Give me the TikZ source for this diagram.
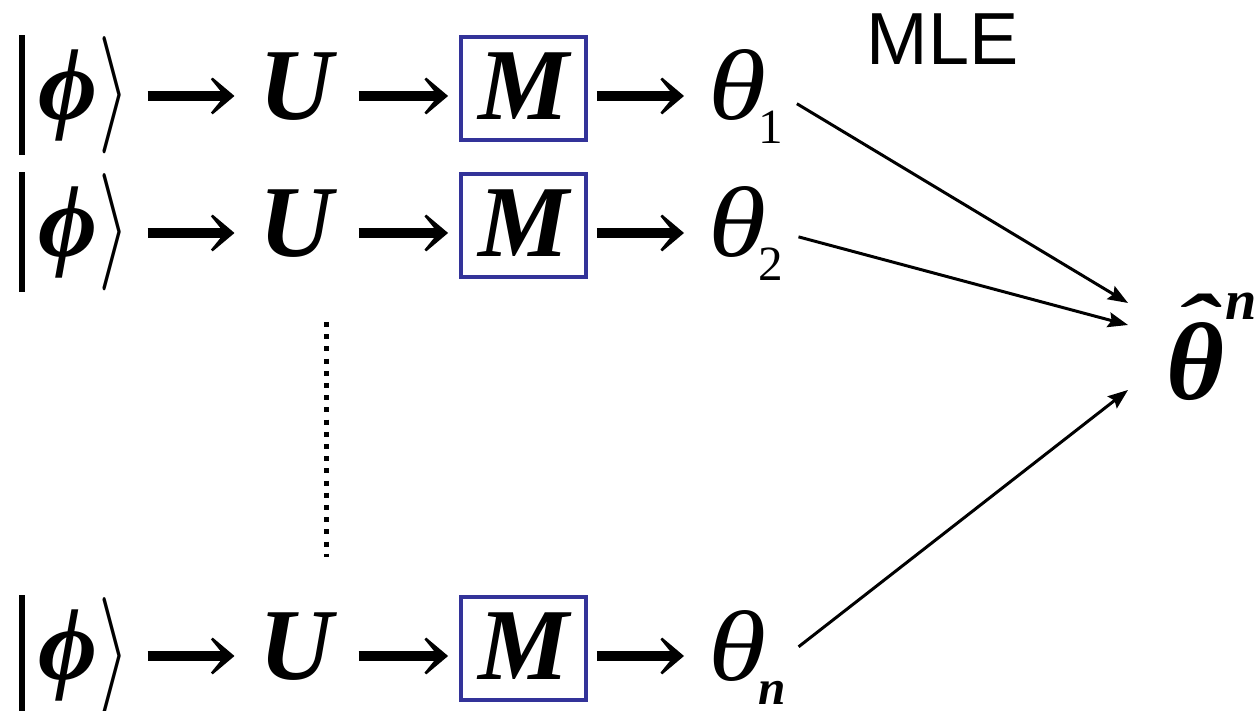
\RequirePackage{fix-cm}
\documentclass[tikz,border=0pt]{standalone}
\usepackage{amsmath,amssymb}
\usepackage{fontspec}
\usetikzlibrary{arrows.meta,positioning}
\newfontfamily\tms{Liberation Serif}
\newfontfamily\hlv{Liberation Sans}
\definecolor{measblue}{HTML}{333399}
% ket |phi>
\newcommand{\ketphi}{\rule[-0.35cm]{0.065cm}{1.2cm}\hspace{0.13cm}ϕ\hspace{0.01cm}\raisebox{-0.05cm}{\scalebox{0.8}[1.15]{$\rangle$}}}
\newcommand{\sub}[1]{\hspace{-0.08cm}\raisebox{-0.24cm}{\fontsize{14}{16}\selectfont #1}}
% hat over theta, hat top 1.06cm above the base line
\newcommand{\hatto}{\rlap{\hspace{0.08cm}\raisebox{\dimexpr1.06cm-\fontcharht\font"02C6*4/5\relax}{\scalebox{1.2}[0.8]{\char"02C6}}}}

\begin{document}
\begin{tikzpicture}[
  sym/.style={font=\fontsize{29}{34}\selectfont\tms\bfseries\itshape, inner sep=0pt, text height=0.63cm, text depth=0.15cm, anchor=base},
  ket/.style={sym, anchor=base west},
  meas/.style={sym, draw=measblue, line width=1.1pt, minimum width=1.25cm, minimum height=1.03cm, text depth=0cm},
  est/.style={sym, font=\fontsize{34}{38}\selectfont\tms\itshape, anchor=base west},
  arr/.style={line width=2.6pt, -{Stealth[length=0.32cm, width=0.54cm, inset=0.22cm]}, shorten <=0.25cm, shorten >=0.24cm},
  edge/.style={line width=0.85pt, -{Stealth[length=0.2cm, width=0.15cm, inset=0.03cm]}, shorten <=0.15cm}
]
\useasboundingbox (0,0) rectangle (12.57,7.11);
\node[font=\fontsize{21}{25}\selectfont\hlv, anchor=base] (mle) at (9.425,6.46) {MLE};

\node[ket] (k1) at (0.18,5.91) {\ketphi};
\node[sym] (u1) at (2.96,5.91) {U};
\node[meas] (m1) at (5.235,5.91) {M};
\node[est] (t1) at (7.08,5.91) {\resizebox{0.58cm}{0.70cm}{θ}\sub{\upshape 1}};
\draw[arr, shorten <=0.17cm] (k1) -- (u1);
\draw[arr, shorten >=0.11cm] (u1) -- (u1 -| m1.west);
\draw[arr, shorten <=0.09cm] (m1.east |- u1) -- (t1);

\node[ket] (k2) at (0.18,4.54) {\ketphi};
\node[sym] (u2) at (2.96,4.54) {U};
\node[meas] (m2) at (5.235,4.54) {M};
\node[est] (t2) at (7.08,4.54) {\resizebox{0.58cm}{0.70cm}{θ}\sub{\upshape 2}};
\draw[arr, shorten <=0.17cm] (k2) -- (u2);
\draw[arr, shorten >=0.11cm] (u2) -- (u2 -| m2.west);
\draw[arr, shorten <=0.09cm] (m2.east |- u2) -- (t2);

\draw[line width=1.42pt, dash pattern=on 1.42pt off 2.05pt] (3.26,3.89) -- (3.26,1.54);

\node[ket] (kn) at (0.18,0.31) {\ketphi};
\node[sym] (un) at (2.96,0.31) {U};
\node[meas] (mn) at (5.235,0.31) {M};
\node[est] (tn) at (7.08,0.31) {\resizebox{0.58cm}{0.70cm}{θ}\sub{\bfseries n}};
\draw[arr, shorten <=0.17cm] (kn) -- (un);
\draw[arr, shorten >=0.11cm] (un) -- (un -| mn.west);
\draw[arr, shorten <=0.09cm] (mn.east |- un) -- (tn);

\node[font=\fontsize{30}{34}\selectfont\tms\bfseries\itshape, inner sep=0pt, anchor=base west] (th) at (11.66,3.11)
  {\hatto\resizebox{0.58cm}{0.77cm}{θ}\hspace{0.01cm}\raisebox{0.80cm}{\fontsize{16}{18}\selectfont n}};
\draw[edge] (t1.east) -- ([shift={(-0.38,0.97)}]th.base west);
\draw[edge] (t2.east) -- ([shift={(-0.38,0.75)}]th.base west);
\draw[edge] (tn.east) -- ([shift={(-0.38,0.10)}]th.base west);
\end{tikzpicture}
\end{document}
